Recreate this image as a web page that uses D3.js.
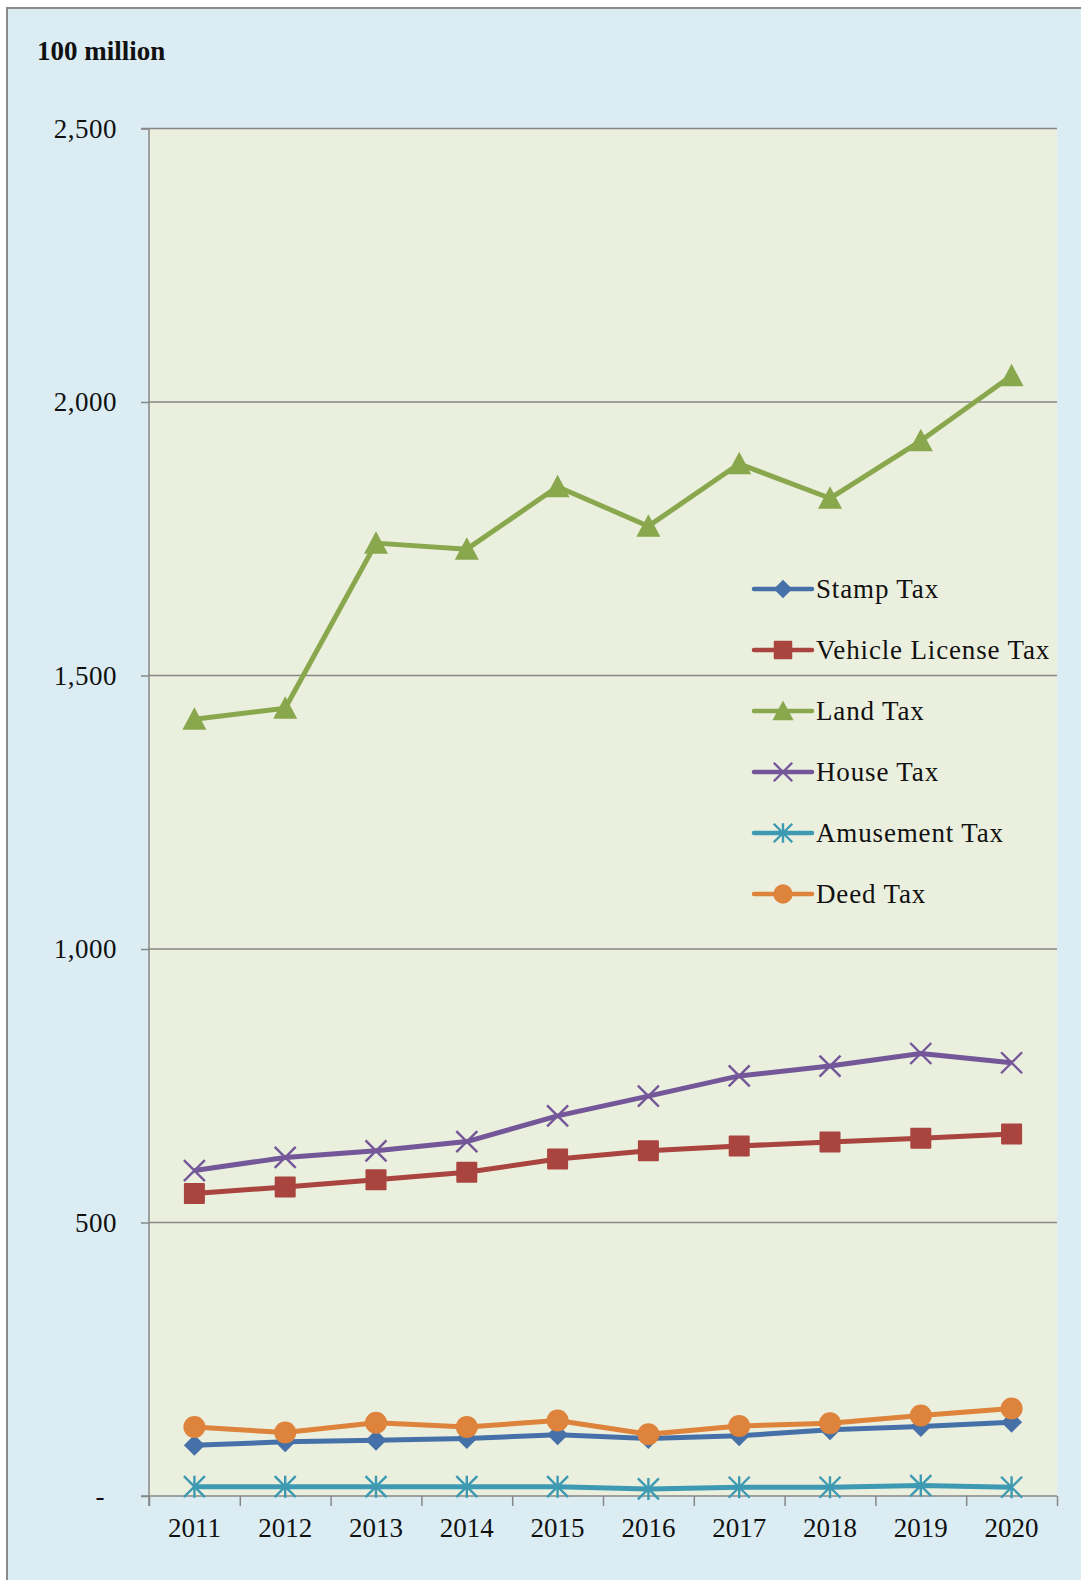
<!DOCTYPE html>
<html>
<head>
<meta charset="utf-8">
<script src="https://cdn.jsdelivr.net/npm/d3@7"></script>
<style>
  html, body { margin: 0; padding: 0; background: #ffffff; }
  svg { display: block; }
  text { font-family: "Liberation Serif", "Times New Roman", serif; fill: #111; }
</style>
</head>
<body>
<svg id="chart" width="1081" height="1580"></svg>
<script>
// Local tax revenue by item, unit: 100 million
const years = ["2011", "2012", "2013", "2014", "2015", "2016", "2017", "2018", "2019", "2020"];
const stampTax     = [93, 99, 102, 105, 112, 105, 110, 121, 127, 135];
const vehicleTax   = [553, 565, 578, 592, 616, 631, 640, 647, 654, 662];
const landTax      = [1420, 1440, 1742, 1731, 1845, 1773, 1887, 1824, 1929, 2048];
const houseTax     = [595, 619, 631, 648, 695, 731, 768, 786, 809, 792];
const amusementTax = [17, 17, 17, 17, 17, 13, 16, 16, 19, 16];
const deedTax      = [126, 116, 134, 126, 138, 113, 128, 133, 147, 160];
const yTicks = [0, 500, 1000, 1500, 2000, 2500];

const series = [
  { name: "Stamp Tax",           values: stampTax,     color: "#4671a8", marker: "diamond" },
  { name: "Vehicle License Tax", values: vehicleTax,   color: "#a9443f", marker: "square" },
  { name: "Land Tax",            values: landTax,      color: "#89a74c", marker: "triangle" },
  { name: "House Tax",           values: houseTax,     color: "#735799", marker: "x" },
  { name: "Amusement Tax",       values: amusementTax, color: "#3d9ab2", marker: "asterisk" },
  { name: "Deed Tax",            values: deedTax,      color: "#dd833c", marker: "circle" }
];

const svg = d3.select("#chart");
const plot = { left: 149, right: 1057, top: 128.5, bottom: 1496 };
const axisColor = "#878787";

// chart area with frame
svg.append("rect")
  .attr("x", 7).attr("y", 8).attr("width", 1100).attr("height", 1600)
  .attr("fill", "#dbedf3").attr("stroke", "#8a8a8a").attr("stroke-width", 2);

// plot area
svg.append("rect")
  .attr("x", plot.left).attr("y", plot.top)
  .attr("width", plot.right - plot.left).attr("height", plot.bottom - plot.top)
  .attr("fill", "#ebefde");

const x = d3.scaleBand().domain(years).range([plot.left, plot.right]).padding(0);
const xc = d => x(d) + x.bandwidth() / 2;
const y = d3.scaleLinear().domain([0, 2500]).range([plot.bottom, plot.top]);

// horizontal gridlines
svg.append("g").selectAll("line")
  .data(yTicks.filter(t => t > 0))
  .join("line")
  .attr("x1", plot.left).attr("x2", plot.right)
  .attr("y1", d => y(d)).attr("y2", d => y(d))
  .attr("stroke", axisColor).attr("stroke-width", 1.5);

// y axis
const yAxis = svg.append("g")
  .attr("transform", `translate(${plot.left},0)`)
  .call(d3.axisLeft(y).tickValues(yTicks).tickSize(8).tickPadding(24)
    .tickFormat(d => d === 0 ? "-" : d3.format(",")(d)));
yAxis.select(".domain").attr("stroke", axisColor).attr("stroke-width", 1.5)
  .attr("d", `M-8,${plot.top}H0V${plot.bottom + 10}`);
yAxis.selectAll(".tick line").attr("stroke", axisColor).attr("stroke-width", 1.5);
yAxis.selectAll(".tick text")
  .attr("font-size", 27).attr("letter-spacing", 0.5)
  .style("font-family", '"Liberation Serif", "Times New Roman", serif')
  .attr("fill", "#111")
  .attr("dx", d => d === 0 ? -12 : 0);

// x axis: boundary ticks plus centred year labels
const xb = d3.scaleLinear().domain([0, years.length]).range([plot.left, plot.right]);
const xAxisTicks = svg.append("g")
  .attr("transform", `translate(0,${plot.bottom})`)
  .call(d3.axisBottom(xb).ticks(years.length).tickSize(10).tickFormat(""));
xAxisTicks.select(".domain").attr("stroke", axisColor).attr("stroke-width", 1.5)
  .attr("d", `M${plot.left - 8},0H${plot.right}`);
xAxisTicks.selectAll(".tick line").attr("stroke", axisColor).attr("stroke-width", 1.5);

const xAxisLabels = svg.append("g")
  .attr("transform", `translate(0,${plot.bottom})`)
  .call(d3.axisBottom(x).tickSize(0).tickPadding(22));
xAxisLabels.select(".domain").remove();
xAxisLabels.selectAll(".tick text")
  .attr("font-size", 27)
  .style("font-family", '"Liberation Serif", "Times New Roman", serif')
  .attr("fill", "#111");

// unit label
svg.append("text")
  .attr("x", 37).attr("y", 60)
  .attr("font-size", 27).attr("font-weight", "bold")
  .text("100 million");

// marker drawing
function drawMarker(g, type, color, s) {
  const k = s || 1;
  switch (type) {
    case "diamond":
      g.append("path").attr("d", `M0,${-10.5*k}L${10.5*k},0L0,${10.5*k}L${-10.5*k},0Z`).attr("fill", color);
      break;
    case "square":
      g.append("rect").attr("x", -10.5*k).attr("y", -10.5*k).attr("width", 21*k).attr("height", 21*k)
        .attr("rx", 1).attr("fill", color);
      break;
    case "triangle":
      g.append("path").attr("d", `M0,${-12*k}L${12*k},${10.5*k}L${-12*k},${10.5*k}Z`).attr("fill", color);
      break;
    case "circle":
      g.append("circle").attr("r", 11*k).attr("fill", color);
      break;
    case "x":
      g.append("path").attr("d", `M${-10.5*k},${-10.5*k}L${10.5*k},${10.5*k}M${10.5*k},${-10.5*k}L${-10.5*k},${10.5*k}`)
        .attr("stroke", color).attr("stroke-width", 2.4).attr("fill", "none");
      break;
    case "asterisk":
      g.append("path").attr("d", `M${-10.5*k},${-10.5*k}L${10.5*k},${10.5*k}M${10.5*k},${-10.5*k}L${-10.5*k},${10.5*k}M0,${-11*k}V${11*k}`)
        .attr("stroke", color).attr("stroke-width", 2.4).attr("fill", "none");
      break;
  }
}

const line = d3.line().x((d, i) => xc(years[i])).y(d => y(d));

const seriesG = svg.append("g");
series.forEach(s => {
  const g = seriesG.append("g");
  g.append("path")
    .datum(s.values)
    .attr("d", line)
    .attr("fill", "none")
    .attr("stroke", s.color)
    .attr("stroke-width", 5)
    .attr("stroke-linejoin", "round");
  s.values.forEach((v, i) => {
    const m = g.append("g").attr("transform", `translate(${xc(years[i])},${y(v)})`);
    drawMarker(m, s.marker, s.color, 1);
  });
});

// legend
const legend = svg.append("g").attr("transform", "translate(754,589)");
series.forEach((s, i) => {
  const row = legend.append("g").attr("transform", `translate(0,${i * 61})`);
  row.append("line").attr("x1", 0).attr("x2", 58).attr("y1", 0).attr("y2", 0)
    .attr("stroke", s.color).attr("stroke-width", 4.5).attr("stroke-linecap", "round");
  const m = row.append("g").attr("transform", "translate(29,0)");
  drawMarker(m, s.marker, s.color, 0.88);
  row.append("text")
    .attr("x", 62).attr("y", 0).attr("dy", "0.33em")
    .attr("font-size", 27).attr("letter-spacing", 0.85)
    .text(s.name);
});
</script>
</body>
</html>
